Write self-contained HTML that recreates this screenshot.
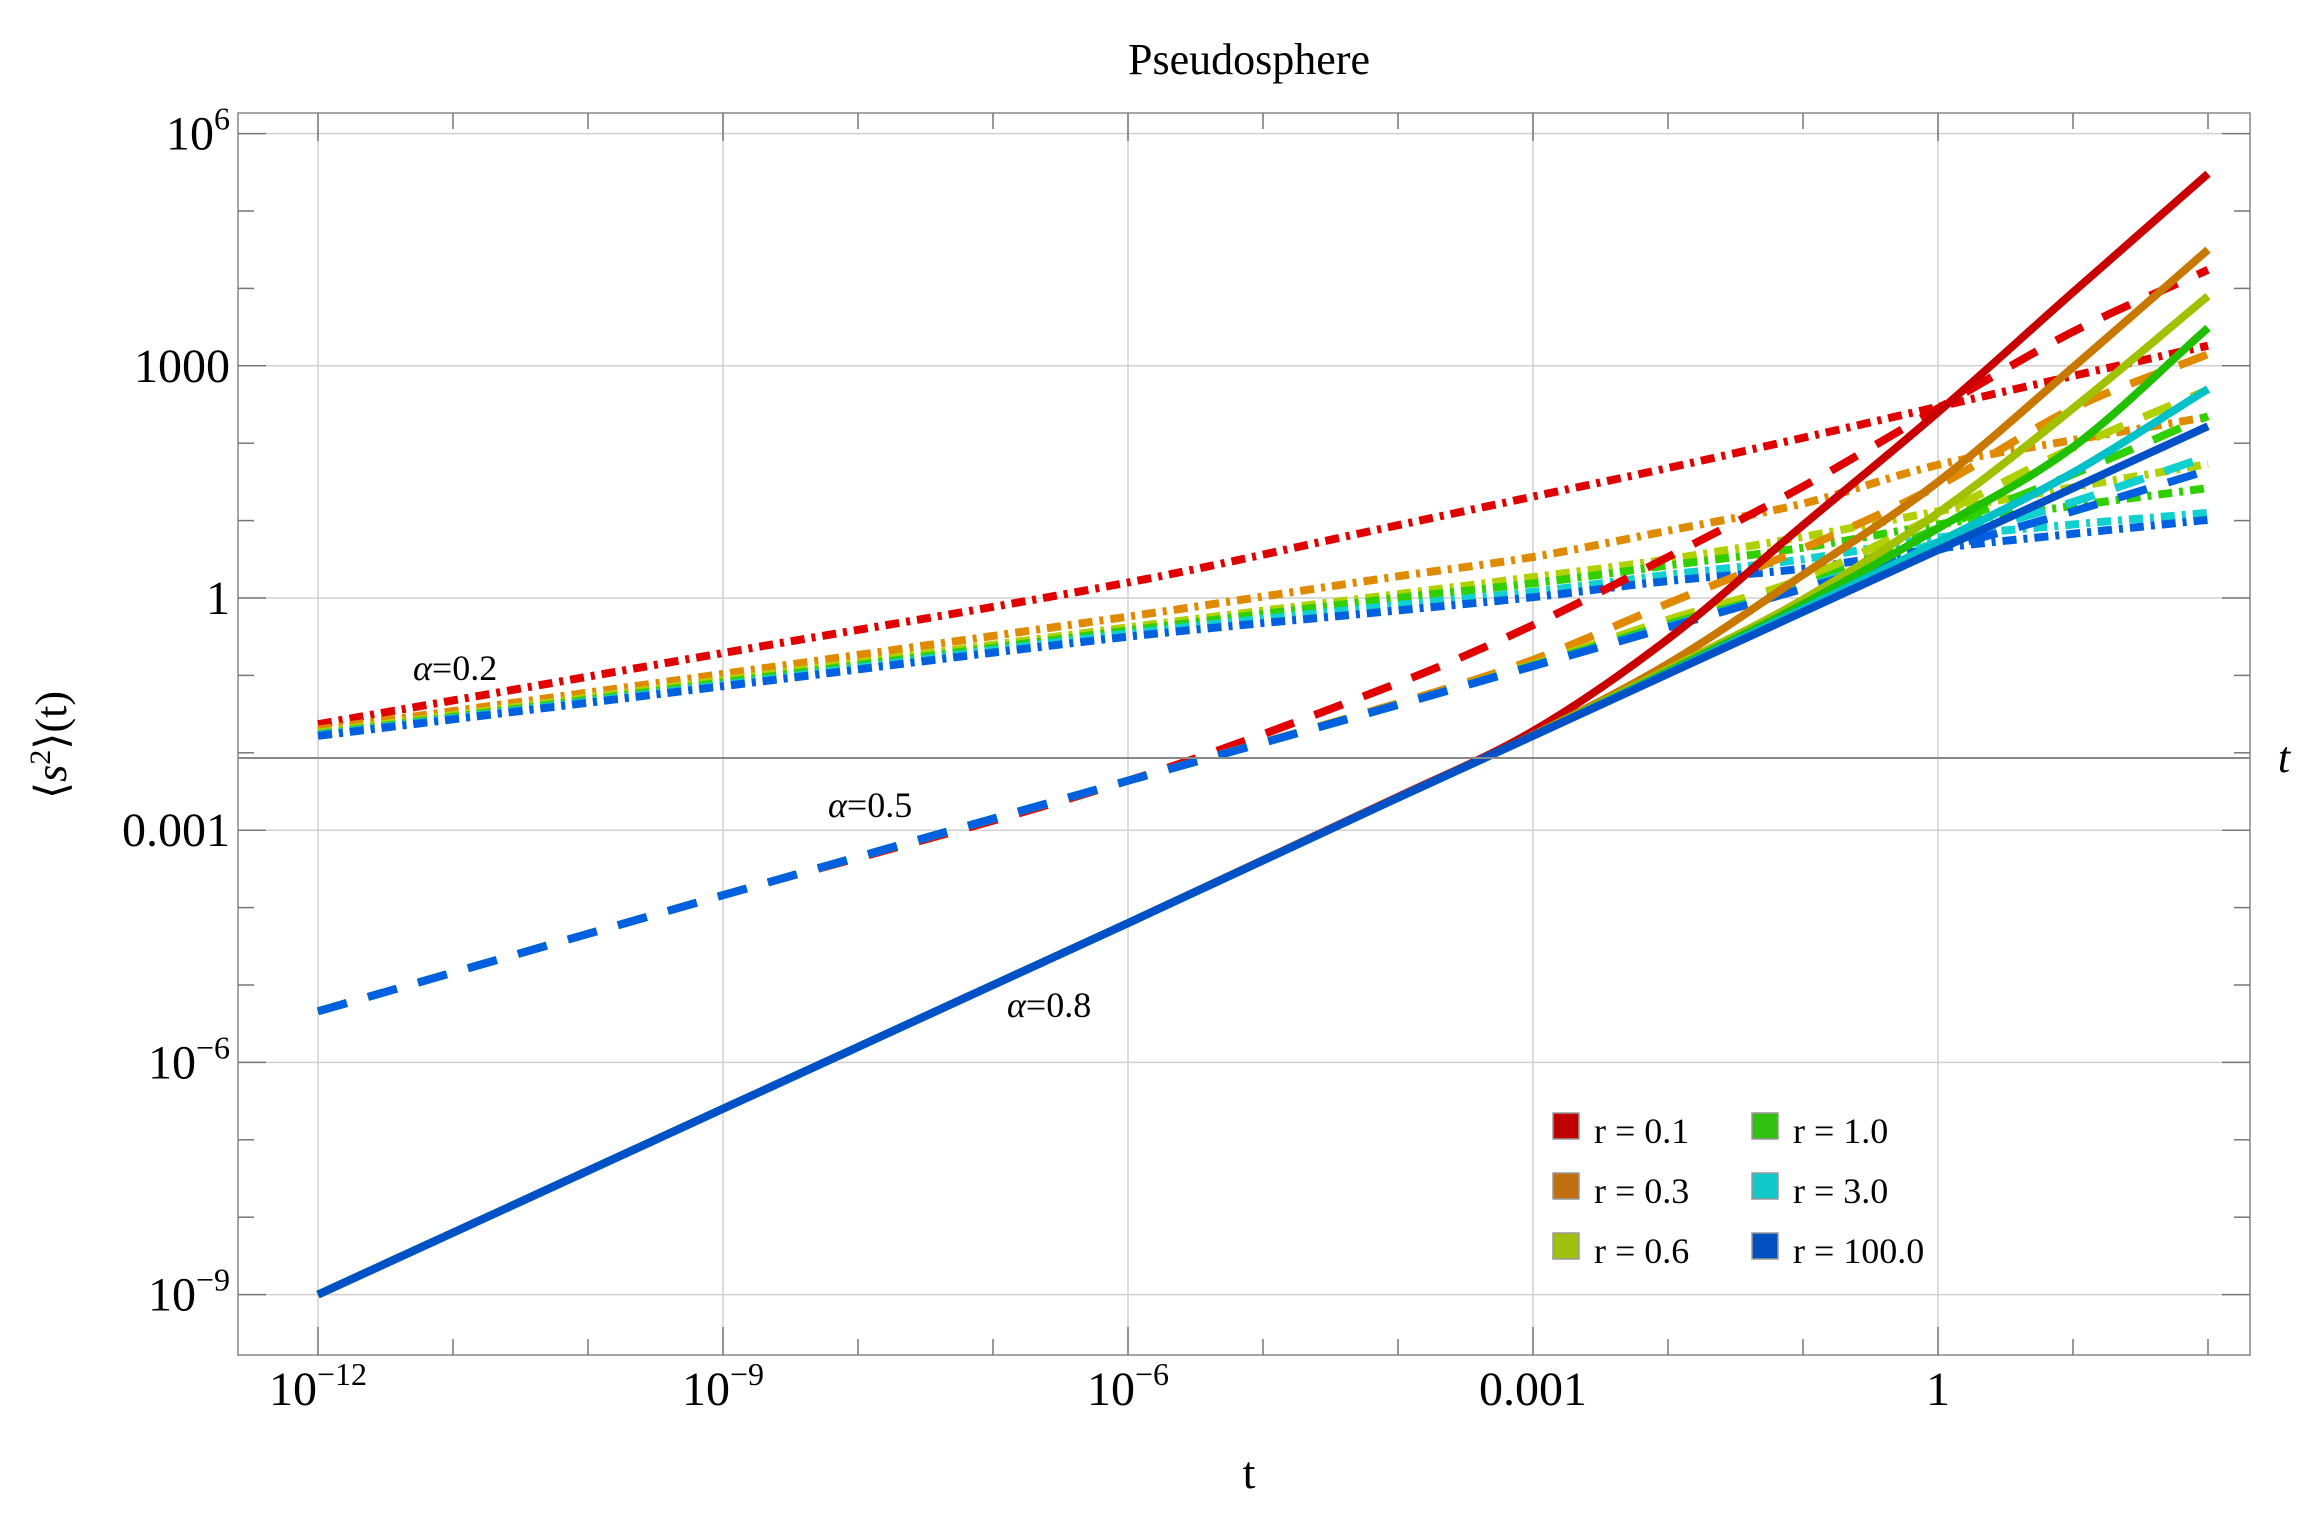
<!DOCTYPE html>
<html><head><meta charset="utf-8"><style>
html,body{margin:0;padding:0;background:#fff;}
svg{display:block;font-family:"Liberation Serif",serif;}
</style></head><body>
<svg id="chart" width="2320" height="1521" viewBox="0 0 2320 1521" xmlns="http://www.w3.org/2000/svg">
<text x="1249" y="74" font-size="44" text-anchor="middle">Pseudosphere</text>
<g id="grid"></g>
<g id="series"></g>
<g id="axes"></g>
<text x="1249" y="1488" font-size="46" text-anchor="middle">t</text>
<text x="2284" y="772" font-size="44" font-style="italic" text-anchor="middle">t</text>
<text transform="translate(66,745) rotate(-90)" font-size="44" text-anchor="middle">⟨<tspan font-style="italic">s</tspan><tspan dy="-16" font-size="30">2</tspan><tspan dy="16">⟩(t)</tspan></text>
<text x="413" y="680" font-size="36"><tspan font-style="italic">α</tspan>=0.2</text>
<text x="828" y="817" font-size="36"><tspan font-style="italic">α</tspan>=0.5</text>
<text x="1007" y="1017" font-size="36"><tspan font-style="italic">α</tspan>=0.8</text>
<g id="legend"></g>
</svg>
<script>
// data
const tDecades = [-12, -9, -6, -4, -3, -2, -1, 0, 1, 2];
const rLabels = ["r = 0.1", "r = 0.3", "r = 0.6", "r = 1.0", "r = 3.0", "r = 100.0"];
// log10 <s^2> values, alpha = 0.2 (dot-dashed)
const dot_r01 = [-1.63, -0.71, 0.20, 0.94, 1.31, 1.68, 2.07, 2.47, 2.87, 3.26];
const dot_r03 = [-1.70, -0.98, -0.24, 0.28, 0.53, 0.87, 1.22, 1.72, 2.04, 2.34];
const dot_r06 = [-1.74, -1.06, -0.38, 0.05, 0.27, 0.50, 0.79, 1.12, 1.43, 1.73];
const dot_r10 = [-1.76, -1.09, -0.42, 0.00, 0.19, 0.42, 0.65, 0.95, 1.19, 1.42];
const dot_r30 = [-1.77, -1.12, -0.46, -0.09, 0.08, 0.30, 0.50, 0.78, 0.95, 1.10];
const dot_r100 = [-1.78, -1.14, -0.50, -0.16, 0.01, 0.22, 0.38, 0.64, 0.83, 1.01];
// alpha = 0.5 (dashed)
const dash_r01 = [-5.34, -3.84, -2.36, -1.10, -0.35, 0.53, 1.44, 2.45, 3.44, 4.24];
const dash_r03 = [-5.34, -3.84, -2.36, -1.36, -0.80, -0.07, 0.64, 1.45, 2.45, 3.15];
const dash_r06 = [-5.34, -3.84, -2.36, -1.38, -0.86, -0.28, 0.25, 1.07, 1.94, 2.69];
const dash_r10 = [-5.34, -3.84, -2.36, -1.38, -0.87, -0.34, 0.16, 0.90, 1.60, 2.35];
const dash_r30 = [-5.34, -3.84, -2.36, -1.38, -0.88, -0.37, 0.13, 0.72, 1.24, 1.83];
const dash_r100 = [-5.34, -3.84, -2.36, -1.38, -0.88, -0.38, 0.12, 0.62, 1.12, 1.65];
// alpha = 0.8 (solid)
const sol_r01 = [-9.0, -6.6, -4.2, -2.57, -1.72, -0.53, 0.94, 2.40, 3.95, 5.48];
const sol_r03 = [-9.0, -6.6, -4.2, -2.58, -1.77, -0.85, 0.30, 1.50, 2.98, 4.50];
const sol_r06 = [-9.0, -6.6, -4.2, -2.58, -1.78, -0.92, -0.02, 1.10, 2.45, 3.90];
const sol_r10 = [-9.0, -6.6, -4.2, -2.58, -1.78, -0.95, -0.08, 0.90, 1.95, 3.49];
const sol_r30 = [-9.0, -6.6, -4.2, -2.58, -1.78, -0.97, -0.14, 0.72, 1.62, 2.70];
const sol_r100 = [-9.0, -6.6, -4.2, -2.58, -1.78, -0.98, -0.18, 0.62, 1.42, 2.22];
const xTickDecades = [-12, -9, -6, -3, 0];
const xTickLabels = ["10^-12", "10^-9", "10^-6", "0.001", "1"];
const yTickDecades = [6, 3, 0, -3, -6, -9];
const yTickLabels = ["10^6", "1000", "1", "0.001", "10^-6", "10^-9"];

const NS = "http://www.w3.org/2000/svg";
const L = 238, R = 2250, T = 113, B = 1355;
function xs(d){ return 318 + 135 * (d + 12); }
function ys(lv){ return 598 - 77.4 * lv; }
function mk(tag, attrs, parent){ const e = document.createElementNS(NS, tag); for (const k in attrs) e.setAttribute(k, attrs[k]); parent.appendChild(e); return e; }

const grid = document.getElementById('grid');
const axes = document.getElementById('axes');
for (const d of xTickDecades){
  const g = mk('line', {x1: xs(d), x2: xs(d), y1: T, y2: B, stroke: '#d0d0d0', 'stroke-width': 1.5}, grid);
  
  
}
for (const d of yTickDecades){
  const g = mk('line', {x1: L, x2: R, y1: ys(d), y2: ys(d), stroke: '#d0d0d0', 'stroke-width': 1.5}, grid);
  
  
}
const fr = mk('rect', {x: L, y: T, width: R - L, height: B - T, fill: 'none', stroke: '#888', 'stroke-width': 1.5}, axes);


const ax = mk('line', {x1: L, x2: R, y1: 758, y2: 758, stroke: '#888', 'stroke-width': 2}, axes);


for (let d = -12; d <= 2; d++){
  const major = xTickDecades.includes(d);
  const len = major ? 28 : 16;
  for (const [y0, y1] of [[B, B - len], [T, T + len]]){
    const t = mk('line', {x1: xs(d), x2: xs(d), y1: y0, y2: y1, stroke: '#777', 'stroke-width': 1.5}, axes);
    
    
  }
}
for (let d = -9; d <= 6; d++){
  const major = yTickDecades.includes(d);
  const len = major ? 28 : 16;
  for (const [x0, x1] of [[L, L + len], [R, R - len]]){
    const t = mk('line', {x1: x0, x2: x1, y1: ys(d), y2: ys(d), stroke: '#777', 'stroke-width': 1.5}, axes);
    
    
  }
}
function labelText(parent, s, attrs){
  const t = mk('text', attrs, parent);
  const m = s.match(/^10\^(.+)$/);
  if (m){
    const a = document.createElementNS(NS, 'tspan'); a.textContent = '10'; t.appendChild(a);
    const b = document.createElementNS(NS, 'tspan'); b.setAttribute('dy', '-20'); b.setAttribute('font-size', '32'); b.textContent = m[1].replace('-', '−'); t.appendChild(b);
  } else t.textContent = s;
  return t;
}
xTickDecades.forEach((d, i) => {
  const t = labelText(axes, xTickLabels[i], {x: xs(d), y: 1405, 'font-size': 48, 'text-anchor': 'middle'});
  
  
});
yTickDecades.forEach((d, i) => {
  const t = labelText(axes, yTickLabels[i], {x: 230, y: ys(d) + 16, 'font-size': 48, 'text-anchor': 'end'});
  
  
});

function smoothPath(px){
  let d = 'M' + px[0][0].toFixed(1) + ',' + px[0][1].toFixed(1);
  for (let i = 0; i < px.length - 1; i++){
    const p0 = px[Math.max(0, i - 1)], p1 = px[i], p2 = px[i + 1], p3 = px[Math.min(px.length - 1, i + 2)];
    const s1 = (p2[0] - p1[0]) / Math.max(1e-6, (p2[0] - p0[0])) ;
    const s2 = (p2[0] - p1[0]) / Math.max(1e-6, (p3[0] - p1[0]));
    const c1 = [p1[0] + (p2[0] - p0[0]) * s1 / 3, p1[1] + (p2[1] - p0[1]) * s1 / 3];
    const c2 = [p2[0] - (p3[0] - p1[0]) * s2 / 3, p2[1] - (p3[1] - p1[1]) * s2 / 3];
    d += ' C' + c1[0].toFixed(1) + ',' + c1[1].toFixed(1) + ' ' + c2[0].toFixed(1) + ',' + c2[1].toFixed(1) + ' ' + p2[0].toFixed(1) + ',' + p2[1].toFixed(1);
  }
  return d;
}

const series = document.getElementById('series');
const solidCols = ['#c80000', '#c87800', '#a0c000', '#20c000', '#00c0c8', '#0050c8'];
const dashCols = ['#e00000', '#e08a00', '#b0d000', '#30d000', '#10d0d0', '#0060e0'];
const groups = [
  {name: 'alpha-0.2', data: [dot_r01, dot_r03, dot_r06, dot_r10, dot_r30, dot_r100], dash: '14,7,4,7', cols: dashCols},
  {name: 'alpha-0.5', data: [dash_r01, dash_r03, dash_r06, dash_r10, dash_r30, dash_r100], dash: '30,22', cols: dashCols},
  {name: 'alpha-0.8', data: [sol_r01, sol_r03, sol_r06, sol_r10, sol_r30, sol_r100], dash: 'none', cols: solidCols}
];
for (const g of groups){
  g.data.forEach((vals, i) => {
    const px = tDecades.map((d, k) => [xs(d), ys(vals[k])]);
    const p = mk('path', {d: smoothPath(px), fill: 'none', stroke: g.cols[i], 'stroke-width': 8, 'stroke-dasharray': g.dash, 'stroke-linejoin': 'round'}, series);
    
    
  });
}

const legend = document.getElementById('legend');
const legCols = ['#c00000', '#c07010', '#a0c010', '#30c010', '#10c8c8', '#0050c0'];
rLabels.forEach((lab, i) => {
  const col = Math.floor(i / 3), row = i % 3;
  const x = 1553 + col * 199, y = 1113 + row * 60;
  const s = mk('rect', {x: x, y: y, width: 26, height: 26, fill: legCols[i], stroke: '#999', 'stroke-width': 1.5}, legend);
  
  
  const t = mk('text', {x: x + 41, y: y + 30, 'font-size': 36}, legend);
  t.textContent = lab;
  
  
});
</script>
</body></html>
